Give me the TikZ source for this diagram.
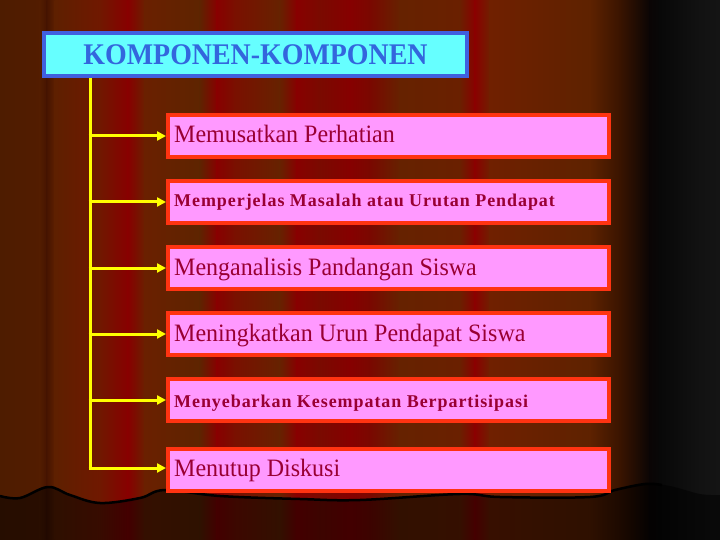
\documentclass[tikz,border=0pt]{standalone}
\usepackage{fontspec}
\usepackage{graphicx}
\setmainfont{Liberation Serif}
\usetikzlibrary{arrows.meta}
\definecolor{titlefill}{RGB}{102,255,255}
\definecolor{titleborder}{RGB}{64,96,224}
\definecolor{titletext}{RGB}{51,102,221}
\definecolor{boxfill}{RGB}{255,153,255}
\definecolor{boxborder}{RGB}{255,51,17}
\definecolor{boxtext}{RGB}{153,0,51}
\definecolor{conn}{RGB}{255,255,0}
\newcommand{\condense}[1]{\scalebox{0.93}[1]{#1}}
\newcommand{\slimtext}[1]{\scalebox{0.96}[1]{#1}}
\tikzset{
  titlebox/.style={draw=titleborder, line width=4pt, fill=titlefill, minimum width=423pt, minimum height=43pt, inner sep=0pt, text=titletext, font=\fontsize{30}{31}\selectfont\bfseries},
  itembox/.style={draw=boxborder, line width=4pt, fill=boxfill, minimum width=441pt, minimum height=42pt, inner sep=0pt, anchor=north west},
  itemtext/.style={anchor=base west, inner sep=0pt, text=boxtext},
  regtext/.style={itemtext, font=\fontsize{25}{27}\selectfont},
  boldtext/.style={itemtext, font=\fontsize{18}{20}\selectfont\bfseries\addfontfeature{LetterSpace=5.2}},
  conline/.style={draw=conn, line width=3pt},
  conarrow/.style={conline, -{Triangle[length=9pt,width=9pt]}},
}
\begin{document}
\begin{tikzpicture}[x=1pt,y=-1pt]
\useasboundingbox (0,0) rectangle (720,540);
% curtain background
\def\stops{0/78/28/0, 40/82/28/0, 47/70/20/0, 55/94/32/0, 100/112/24/0, 128/136/0/0, 145/106/32/0, 200/94/36/0, 217/136/0/0, 235/122/16/0, 280/102/34/0, 297/136/0/0, 320/122/10/0, 350/134/0/0, 370/122/8/0, 400/102/34/0, 460/106/32/0, 475/138/0/0, 490/112/32/0, 590/94/34/0, 620/58/20/0, 650/10/5/5, 660/8/8/8, 700/18/18/18, 720/20/20/20}
\foreach \xx/\rr/\gg/\bb [remember=\xx as \px (initially -1), remember=\rr as \pr (initially 0), remember=\gg as \pg (initially 0), remember=\bb as \pb (initially 0)] in \stops {
  \ifnum\px>-1
    \definecolor{cl}{RGB}{\pr,\pg,\pb}
    \definecolor{cr}{RGB}{\rr,\gg,\bb}
    \shade[left color=cl, right color=cr] (\px-0.3,0) rectangle (\xx+0.3,540);
  \fi
}
% bottom darker region with wavy edge
\fill[black, opacity=0.5] plot[smooth, tension=0.6] coordinates {(0,496) (20,498) (48,487) (70,495) (100,503) (140,498) (165,490) (220,496) (300,499) (360,500) (460,494) (500,497) (590,497) (615,490) (645,484) (670,486) (700,494) (720,495)} -- (720,540) -- (0,540) -- cycle;
\draw[black, line width=2.5pt] plot[smooth, tension=0.6] coordinates {(0,496) (20,498) (48,487) (70,495) (100,503) (140,498) (165,490) (220,496) (300,499) (360,500) (460,494) (500,497) (590,497) (615,490) (645,484) (662,485)};
% title
\node[titlebox] (title) at (255.5,54.5) {\condense{KOMPONEN-KOMPONEN}};
% items
\node[itembox] (b1) at (166,113) {};
\node[itembox] (b2) at (166,179) {};
\node[itembox] (b3) at (166,245) {};
\node[itembox] (b4) at (166,311) {};
\node[itembox] (b5) at (166,377) {};
\node[itembox] (b6) at (166,447) {};
\node[regtext] (t1) at (174,143) {\slimtext{Memusatkan Perhatian}};
\node[boldtext] (t2) at (174,207) {Memperjelas Masalah atau Urutan Pendapat};
\node[regtext] (t3) at (174,275) {\slimtext{Menganalisis Pandangan Siswa}};
\node[regtext] (t4) at (174,341) {\slimtext{Meningkatkan Urun Pendapat Siswa}};
\node[boldtext] (t5) at (174,407) {Menyebarkan Kesempatan Berpartisipasi};
\node[regtext] (t6) at (174,476) {\slimtext{Menutup Diskusi}};
% connectors
\coordinate (top) at (90,78);
\coordinate (bot) at (90,468);
\draw[conline] (top) -- (bot);
\foreach \b in {b1,b2,b3,b4,b5} {
  \draw[conarrow] (90,0 |- \b.west) ++(-1.5,0) -- (\b.west);
}
\draw[conarrow] ([xshift=-1.5pt]bot) -- (bot -| b6.west);
\end{tikzpicture}
\end{document}
